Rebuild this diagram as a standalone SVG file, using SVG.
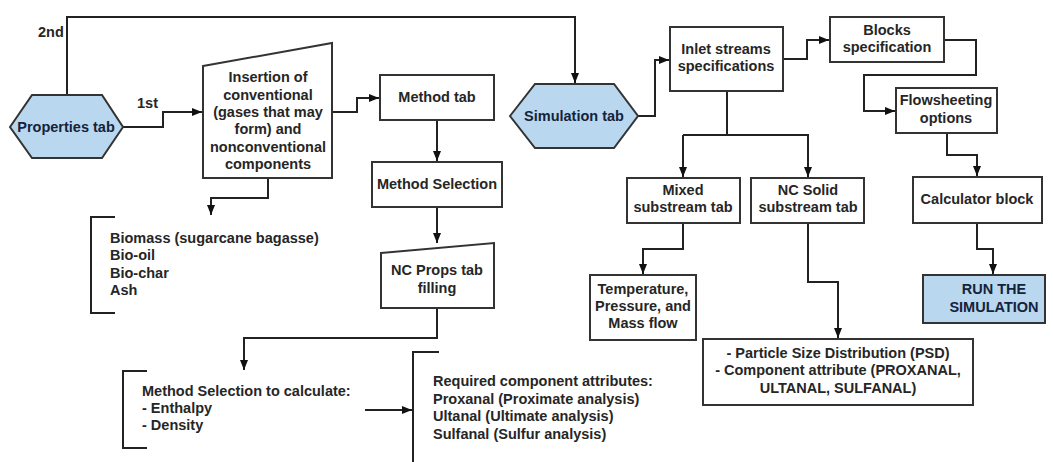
<svg xmlns="http://www.w3.org/2000/svg" width="1053" height="462" viewBox="0 0 1053 462">
<defs>
<marker id="ah" markerWidth="10" markerHeight="8" refX="10" refY="4" orient="auto" markerUnits="userSpaceOnUse">
<path d="M0,0 L10,4 L0,8 Z" fill="#111"/>
</marker>
<style>
.box{fill:#fff;stroke:#333;stroke-width:2}
.blue{fill:#b9d7ef;stroke:#333;stroke-width:2}
.ln{fill:none;stroke:#222;stroke-width:2}
.arr{fill:none;stroke:#222;stroke-width:2;marker-end:url(#ah)}
text{font-family:"Liberation Sans",Arial,sans-serif;font-weight:bold;font-size:14.5px;fill:#262626}
.c{text-anchor:middle}
.dk{fill:#14233a}
</style>
</defs>
<rect width="1053" height="462" fill="#fff"/>
<g id="connectors">
<path class="arr" d="M67,95 V17 H575 V83"/>
<path class="arr" d="M123,127 H163 V112 H202"/>
<path class="arr" d="M268,178 V198 H211 V215"/>
<path class="arr" d="M332,112 H357 V98 H379"/>
<path class="arr" d="M437,120 V161"/>
<path class="arr" d="M437,207 V243"/>
<path class="arr" d="M437,308 V338 H244 V370"/>
<path class="arr" d="M365,410 H412"/>
<path class="arr" d="M638,116 H655 V60 H669"/>
<path class="arr" d="M783,59 H807 V40 H829"/>
<path class="arr" d="M944,40 H976 V75 H864 V111 H895"/>
<path class="arr" d="M947,133 V155 H977 V176"/>
<path class="ln" d="M727,91 V135"/>
<path class="arr" d="M683,135 H808 V177"/>
<path class="arr" d="M683,135 V177"/>
<path class="arr" d="M683,223 V249 H643 V274"/>
<path class="arr" d="M808,223 V282 H838 V338"/>
<path class="arr" d="M977,223 V249 H993 V274"/>
<text x="38" y="37">2nd</text>
<text x="137" y="108">1st</text>
</g>
<g id="properties-tab">
<polygon class="blue" points="10,127 32,95 102,95 123,127 102,158 32,158"/>
<text class="c dk" x="66" y="132">Properties tab</text>
</g>
<g id="insertion">
<polygon class="box" points="203,66 332,43 332,178 203,178"/>
<text class="c" x="268" y="82">Insertion of</text>
<text class="c" x="268" y="100">conventional</text>
<text class="c" x="268" y="117">(gases that may</text>
<text class="c" x="268" y="134">form) and</text>
<text class="c" x="268" y="152">nonconventional</text>
<text class="c" x="268" y="169">components</text>
</g>
<g id="components-list">
<path class="ln" d="M115,217 H91 V313 H115"/>
<text x="110" y="243">Biomass (sugarcane bagasse)</text>
<text x="110" y="260">Bio-oil</text>
<text x="110" y="278">Bio-char</text>
<text x="110" y="295">Ash</text>
</g>
<g id="method-tab">
<rect class="box" x="380" y="75" width="114" height="45"/>
<text class="c" x="437" y="102">Method tab</text>
</g>
<g id="method-selection">
<rect class="box" x="372" y="162" width="130" height="45"/>
<text class="c" x="437" y="189">Method Selection</text>
</g>
<g id="nc-props">
<polygon class="box" points="381,253 494,243 494,308 381,308"/>
<text class="c" x="437" y="275">NC Props tab</text>
<text class="c" x="437" y="293">filling</text>
</g>
<g id="method-calc">
<path class="ln" d="M147,371 H123 V448 H147"/>
<text x="142" y="396">Method Selection to calculate:</text>
<text x="142" y="413">- Enthalpy</text>
<text x="142" y="430">- Density</text>
</g>
<g id="required-attributes">
<path class="ln" d="M439,352 H413 V462"/>
<text x="433" y="386">Required component attributes:</text>
<text x="433" y="404">Proxanal (Proximate analysis)</text>
<text x="433" y="421">Ultanal (Ultimate analysis)</text>
<text x="433" y="439">Sulfanal (Sulfur analysis)</text>
</g>
<g id="simulation-tab">
<polygon class="blue" points="510,116 535,84 614,84 638,116 614,148 535,148"/>
<text class="c dk" x="574" y="121">Simulation tab</text>
</g>
<g id="inlet-streams">
<rect class="box" x="670" y="27" width="113" height="64"/>
<text class="c" x="726" y="54">Inlet streams</text>
<text class="c" x="726" y="71">specifications</text>
</g>
<g id="blocks">
<rect class="box" x="830" y="17" width="114" height="45"/>
<text class="c" x="887" y="35">Blocks</text>
<text class="c" x="887" y="52">specification</text>
</g>
<g id="flowsheeting">
<rect class="box" x="896" y="88" width="101" height="45"/>
<text class="c" x="946" y="105">Flowsheeting</text>
<text class="c" x="946" y="123">options</text>
</g>
<g id="calculator">
<rect class="box" x="913" y="177" width="129" height="46"/>
<text class="c" x="977" y="204">Calculator block</text>
</g>
<g id="run">
<rect class="blue" x="923" y="275" width="122" height="48"/>
<text class="c dk" x="994" y="294">RUN THE</text>
<text class="c dk" x="994" y="312">SIMULATION</text>
</g>
<g id="mixed">
<rect class="box" x="627" y="178" width="113" height="45"/>
<text class="c" x="683" y="195">Mixed</text>
<text class="c" x="683" y="212">substream tab</text>
</g>
<g id="nc-solid">
<rect class="box" x="751" y="178" width="113" height="45"/>
<text class="c" x="808" y="195">NC Solid</text>
<text class="c" x="808" y="212">substream tab</text>
</g>
<g id="temperature">
<rect class="box" x="590" y="275" width="106" height="65"/>
<text class="c" x="643" y="294">Temperature,</text>
<text class="c" x="643" y="311">Pressure, and</text>
<text class="c" x="643" y="328">Mass flow</text>
</g>
<g id="psd">
<rect class="box" x="703" y="339" width="270" height="66"/>
<text class="c" x="838" y="358">- Particle Size Distribution (PSD)</text>
<text class="c" x="838" y="375">- Component attribute (PROXANAL,</text>
<text class="c" x="838" y="393">ULTANAL, SULFANAL)</text>
</g>
</svg>
